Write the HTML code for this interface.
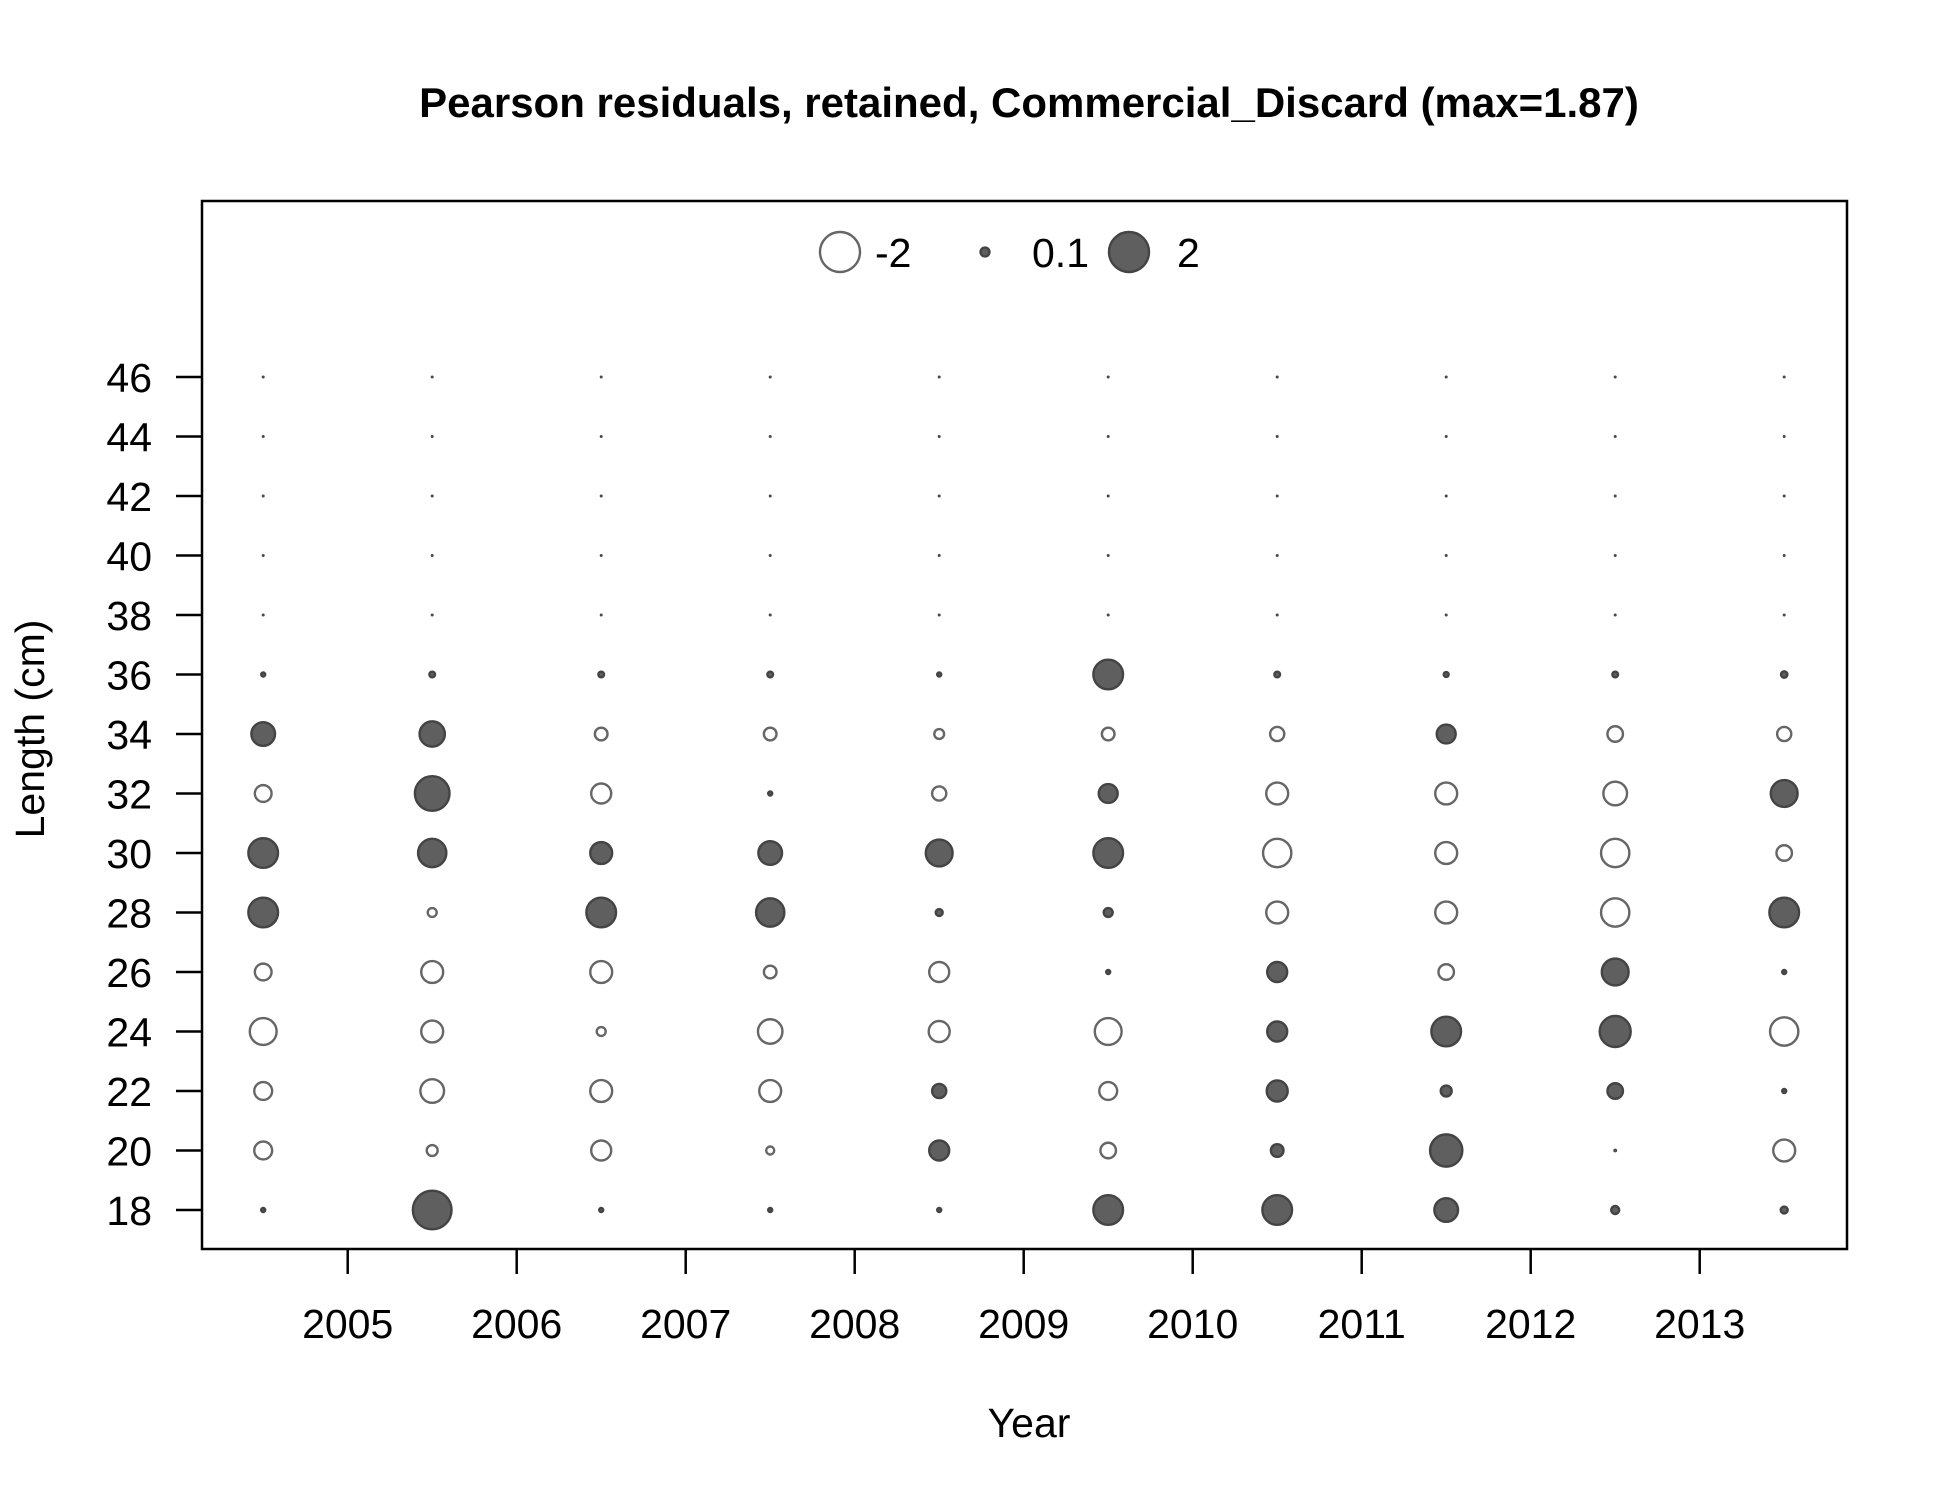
<!DOCTYPE html>
<html><head><meta charset="utf-8"><style>
html,body{margin:0;padding:0;background:#fff;}
svg{display:block;font-family:"Liberation Sans",Arial,sans-serif;}
</style></head><body>
<svg id="chart" width="1950" height="1500" viewBox="0 0 1950 1500">
<text x="1029" y="117" text-anchor="middle" font-size="42" font-weight="bold">Pearson residuals, retained, Commercial_Discard (max=1.87)</text>
<rect x="202" y="201" width="1645" height="1048" fill="none" stroke="#000" stroke-width="2.5"/>
<g id="axes"></g>
<g id="marks"></g>
<g id="legend"></g>
<text x="1029" y="1437" text-anchor="middle" font-size="41">Year</text>
<text transform="translate(44,729) rotate(-90)" text-anchor="middle" font-size="41">Length (cm)</text>
</svg>
<script>
const years=[2004.5,2005.5,2006.5,2007.5,2008.5,2009.5,2010.5,2011.5,2012.5,2013.5];
const lengths=[18,20,22,24,26,28,30,32,34,36,38,40,42,44,46];
const xTicks=[2005,2006,2007,2008,2009,2010,2011,2012,2013];
const yTicks=[18,20,22,24,26,28,30,32,34,36,38,40,42,44,46];
const r2004=[0.02,-0.4,-0.4,-0.9,-0.35,1.1,1.1,-0.35,0.7,0.02,0.005,0.005,0.005,0.005,0.005];
const r2005=[1.87,-0.15,-0.7,-0.6,-0.6,-0.1,1.0,1.5,0.8,0.04,0.005,0.005,0.005,0.005,0.005];
const r2006=[0.02,-0.5,-0.6,-0.1,-0.6,1.1,0.6,-0.5,-0.2,0.04,0.005,0.005,0.005,0.005,0.005];
const r2007=[0.02,-0.08,-0.6,-0.75,-0.2,1.0,0.7,0.02,-0.2,0.04,0.005,0.005,0.005,0.005,0.005];
const r2008=[0.02,0.5,0.25,-0.55,-0.5,0.06,0.9,-0.25,-0.12,0.02,0.005,0.005,0.005,0.005,0.005];
const r2009=[1.1,-0.3,-0.4,-0.9,0.02,0.1,1.1,0.45,-0.2,1.1,0.005,0.005,0.005,0.005,0.005];
const r2010=[1.1,0.2,0.55,0.5,0.5,-0.6,-1.0,-0.6,-0.25,0.04,0.005,0.005,0.005,0.005,0.005];
const r2011=[0.7,1.3,0.15,1.1,-0.3,-0.6,-0.6,-0.6,0.45,0.03,0.005,0.005,0.005,0.005,0.005];
const r2012=[0.08,0.01,0.3,1.2,0.9,-1.0,-1.0,-0.7,-0.3,0.04,0.005,0.005,0.005,0.005,0.005];
const r2013=[0.06,-0.6,0.02,-1.0,0.02,1.1,-0.3,0.9,-0.25,0.05,0.005,0.005,0.005,0.005,0.005];
const residuals=[r2004,r2005,r2006,r2007,r2008,r2009,r2010,r2011,r2012,r2013];
const legendVals=[-2,0.1,2];
const legendLabels=["-2","0.1","2"];

const NS="http://www.w3.org/2000/svg";
const xs=v=>347.7+(v-2005)*169;
const ys=v=>1210-(v-18)*29.75;
const rs=v=>20*Math.sqrt(Math.abs(v)/2);
function mk(tag,attrs,parent){const e=document.createElementNS(NS,tag);for(const k in attrs)e.setAttribute(k,attrs[k]);parent.appendChild(e);return e;}
const axes=document.getElementById('axes');
xTicks.forEach(t=>{
  const l=mk('line',{x1:xs(t),x2:xs(t),y1:1249,y2:1274,stroke:'#000','stroke-width':2.5},axes);
  
  
  const tx=mk('text',{x:xs(t),y:1338,'text-anchor':'middle','font-size':41},axes);
  tx.textContent=t;
  
  
});
yTicks.forEach(t=>{
  const l=mk('line',{x1:176,x2:202,y1:ys(t),y2:ys(t),stroke:'#000','stroke-width':2.5},axes);
  
  
  const tx=mk('text',{x:152,y:ys(t)+15,'text-anchor':'end','font-size':41},axes);
  tx.textContent=t;
  
  
});
function bubble(cx,cy,v,parent){
  const pos=v>0;
  const r=rs(v);
  const sw=r<2?1:2.4;
  return mk('circle',{cx:cx,cy:cy,r:Math.max(r,0.6),fill:pos?'#5f5f5f':'#fff',stroke:pos?'#444':'#666','stroke-width':sw},parent);
}
const marks=document.getElementById('marks');
residuals.forEach((col,i)=>{
  col.forEach((v,j)=>{
    const c=bubble(xs(years[i]),ys(lengths[j]),v,marks);
    
    
  });
});
const lg=document.getElementById('legend');
const lgX=[840,985,1129];
const lgTX=[875,1032,1177];
legendVals.forEach((v,i)=>{
  const c=bubble(lgX[i],252,v,lg);
  
  
  const t=mk('text',{x:lgTX[i],y:267,'font-size':41},lg);
  t.textContent=legendLabels[i];
  
  
});
</script>
</body></html>
